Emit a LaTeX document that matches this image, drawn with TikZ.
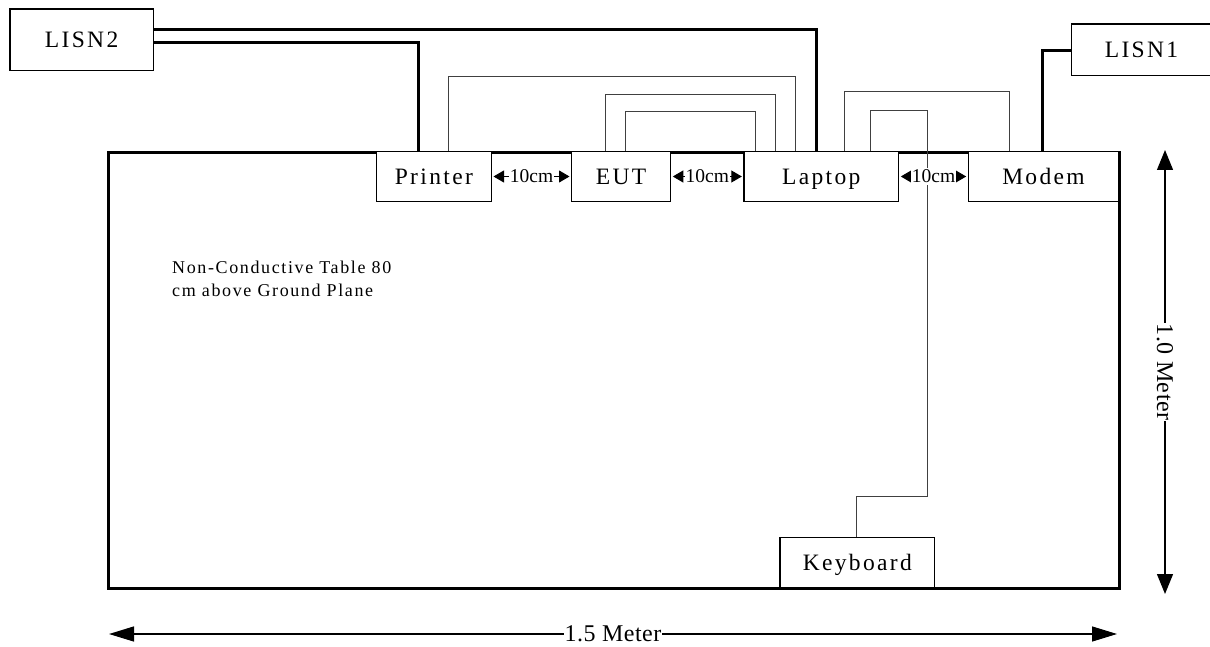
\documentclass[tikz,border=0pt]{standalone}
\usepackage{fontspec}
\setmainfont{Liberation Serif}
\newfontfamily\boxfont[LetterSpace=10]{Liberation Serif}
\newfontfamily\notefont[LetterSpace=9]{Liberation Serif}
\newfontfamily\dimfont[LetterSpace=2]{Liberation Serif}
\usetikzlibrary{arrows.meta}
\begin{document}
\begin{tikzpicture}[x=1pt,y=-1pt,
  box/.style={draw, line width=1.3pt, fill=white, inner sep=0pt, anchor=north west,
    text height=18pt, text depth=2pt,
    font=\boxfont\fontsize{23.5}{26}\selectfont},
  tablebox/.style={draw, line width=3pt, inner sep=0pt, anchor=north west},
  signal/.style={draw=black!75, line width=1pt},
  power/.style={draw=black, line width=3pt},
  gaparrow/.style={line width=1pt, {Triangle[length=10.5pt,width=12pt]}-{Triangle[length=10.5pt,width=12pt]},
    shorten <=1.5pt, shorten >=1.5pt},
  gaplabel/.style={fill=white, inner xsep=1pt, inner ysep=2pt, font=\fontsize{19.5}{22}\selectfont},
  dimarrow/.style={line width=1.3pt},
  dimlabel/.style={fill=white, inner xsep=1pt, inner ysep=1pt, font=\dimfont\fontsize{24}{28}\selectfont},
  note/.style={anchor=north west, align=left, inner sep=0pt, font=\notefont\fontsize{18}{23}\selectfont}
]
\useasboundingbox (0,0) rectangle (1210,647);

% table
\node[tablebox, minimum width=1010.2pt, minimum height=436pt] (table) at (107.3,150.7) {};

% signal line corner points
\coordinate (s1a) at (448.7,76.3);  \coordinate (s1b) at (795.5,76.3);
\coordinate (s2a) at (605,95);      \coordinate (s2b) at (775.7,95);
\coordinate (s3a) at (625.3,112);   \coordinate (s3b) at (755.7,112);
\coordinate (s4a) at (844.7,91.7);  \coordinate (s4b) at (1009.3,91.7);
\coordinate (k1) at (870.7,110.3);  \coordinate (k2) at (927.7,110.3);
\coordinate (k3) at (927.7,496);    \coordinate (k4) at (856.7,496);

% boxes
\node[box, minimum width=143.4pt, minimum height=61.7pt] (lisn2) at (9.3,8.3) {LISN2};
\node[box, minimum width=140.3pt, minimum height=51.7pt] (lisn1) at (1070.7,23.3) {LISN1};
\node[box, minimum width=115pt, minimum height=50.3pt] (printer) at (375.7,150.7) {Printer};
\node[box, minimum width=99pt, minimum height=50.3pt] (eut) at (571,150.7) {EUT};
\node[box, minimum width=154.7pt, minimum height=50.3pt] (laptop) at (743.3,150.7) {Laptop};
\node[box, minimum width=150.3pt, minimum height=50.3pt] (modem) at (967.7,150.7) {Modem};
\node[box, minimum width=154.7pt, minimum height=50pt] (keyboard) at (779.3,536.7) {Keyboard};

\draw[signal] (s1a |- printer.north) -- (s1a) -- (s1b) -- (s1b |- laptop.north);
\draw[signal] (s2a |- eut.north) -- (s2a) -- (s2b) -- (s2b |- laptop.north);
\draw[signal] (s3a |- eut.north) -- (s3a) -- (s3b) -- (s3b |- laptop.north);
\draw[signal] (s4a |- laptop.north) -- (s4a) -- (s4b) -- (s4b |- modem.north);
\draw[signal] (k1 |- laptop.north) -- (k1) -- (k2) -- (k3) -- (k4) -- (k4 |- keyboard.north);

% power lines
\coordinate (p1) at (816.7,29.3);
\coordinate (p2) at (418.3,42.3);
\coordinate (p3) at (1042.7,50.7);
\draw[power] (lisn2.east |- p1) -- (p1) -- (p1 |- laptop.north);
\draw[power] (lisn2.east |- p2) -- (p2) -- (p2 |- printer.north);
\draw[power] (lisn1.west |- p3) -- (p3) -- (p3 |- modem.north);

% gap labels
\draw[gaparrow] (printer.east) -- node[gaplabel] (g1) {10cm} (eut.west);
\draw[gaparrow] (eut.east) -- node[gaplabel] (g2) {10cm} (laptop.west);
\draw[gaparrow] (laptop.east) -- node[gaplabel] (g3) {10cm} (modem.west);

% dimensions
\coordinate (h1) at (109,634);  \coordinate (h2) at (1117,634);
\coordinate (v1) at (1165,150); \coordinate (v2) at (1165,594);
\draw[dimarrow, {Triangle[length=25pt,width=15pt]}-{Triangle[length=25pt,width=15pt]}]
  (h1) -- node[dimlabel] (hl) {1.5 Meter} (h2);
\draw[dimarrow, {Triangle[length=20pt,width=16pt]}-{Triangle[length=20pt,width=16pt]}]
  (v1) -- node[dimlabel, rotate=-90] (vl) {1.0 Meter} (v2);

% note
\node[note] (txt) at (172,261) {Non-Conductive Table 80\\cm above Ground Plane};
\end{tikzpicture}
\end{document}
